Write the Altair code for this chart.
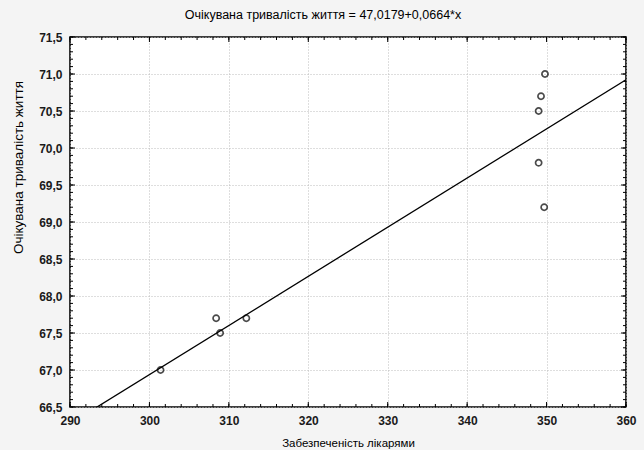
import altair as alt
import pandas as pd

# Observations: physicians provision vs. life expectancy
provision = [301.4, 308.4, 308.9, 312.2, 349.8, 349.3, 349.0, 349.0, 349.7]
life_exp = [67.0, 67.7, 67.5, 67.7, 71.0, 70.7, 70.5, 69.8, 69.2]

# Fitted line coefficients (as shown in the title)
intercept = 47.0179
slope = 0.0664

x_domain = [290, 360]
y_domain = [66.5, 71.5]
x_major = list(range(290, 361, 10))
y_major = [66.5, 67.0, 67.5, 68.0, 68.5, 69.0, 69.5, 70.0, 70.5, 71.0, 71.5]
x_minor = list(range(290, 361, 2))
y_minor = [round(66.5 + 0.1 * i, 1) for i in range(51)]

W, H = 556, 370
FONT = "Liberation Sans"

pts = pd.DataFrame({"x": provision, "y": life_exp})
fit = pd.DataFrame({"x": x_domain})
fit["y"] = intercept + slope * fit["x"]

xs = alt.Scale(domain=x_domain, nice=False, zero=False)
ys = alt.Scale(domain=y_domain, nice=False, zero=False)

comma_fmt = "replace(format(datum.value, '.1f'), '.', ',')"
GRID = dict(grid=True, ticks=False, domain=False, labelFlush=False,
            gridColor="#bdbdbd", gridDash=[1, 2], gridWidth=1,
            labelFont=FONT, labelFontSize=12, labelFontWeight="bold",
            labelColor="#1a1a1a", labelPadding=8)

x_axis = alt.Axis(
    values=x_major, **GRID,
    title="Забезпеченість  лікарями", titleFont=FONT, titleFontSize=11.5,
    titleFontWeight="normal", titleColor="#000", titlePadding=11,
)
y_axis = alt.Axis(
    values=y_major, **GRID,
    labelExpr=comma_fmt,
    title="Очікувана тривалість життя", titleFont=FONT, titleFontSize=13.5,
    titleFontWeight="normal", titleColor="#000",
    titleX=-52, titleY=130, titleAlign="center", titleBaseline="middle",
)

X = alt.X("x:Q", scale=xs, axis=x_axis)
Y = alt.Y("y:Q", scale=ys, axis=y_axis)

# Regression line from the fitted equation
line = alt.Chart(fit).mark_line(color="black", strokeWidth=1.3, clip=True).encode(x=X, y=Y)

points = alt.Chart(pts).mark_point(
    shape="circle", filled=False, color="black", size=38, strokeWidth=1.7
).encode(x=X, y=Y)

# Inward tick marks along the frame
def xticks(vals, length):
    d = pd.DataFrame({"x": vals})
    top = alt.Chart(d).mark_rule(color="black", strokeWidth=1).encode(
        x=X, y=alt.value(0), y2=alt.value(length))
    bot = alt.Chart(d).mark_rule(color="black", strokeWidth=1).encode(
        x=X, y=alt.value(H), y2=alt.value(H - length))
    return [top, bot]

def yticks(vals, length):
    d = pd.DataFrame({"y": vals})
    left = alt.Chart(d).mark_rule(color="black", strokeWidth=1).encode(
        y=Y, x=alt.value(0), x2=alt.value(length))
    right = alt.Chart(d).mark_rule(color="black", strokeWidth=1).encode(
        y=Y, x=alt.value(W), x2=alt.value(W - length))
    return [left, right]

deco = xticks(x_minor, 3) + xticks(x_major, 5) + yticks(y_minor, 3) + yticks(y_major, 5)

chart = alt.layer(line, *deco, points).properties(
    width=W, height=H,
    title=alt.TitleParams(
        "Очікувана тривалість життя = 47,0179+0,0664*x",
        font=FONT, fontSize=12.5, fontWeight="normal", color="#000",
        anchor="middle", offset=10, dx=-25,
    ),
    background="#f4f4f4",
    padding={"left": 70, "top": 37, "right": 18, "bottom": 43},
    autosize=alt.AutoSizeParams(type="none"),
).configure_view(
    fill="white", stroke="black", strokeWidth=1.6
)

chart.save("out.html", embed_options={"renderer": "svg", "actions": False})
